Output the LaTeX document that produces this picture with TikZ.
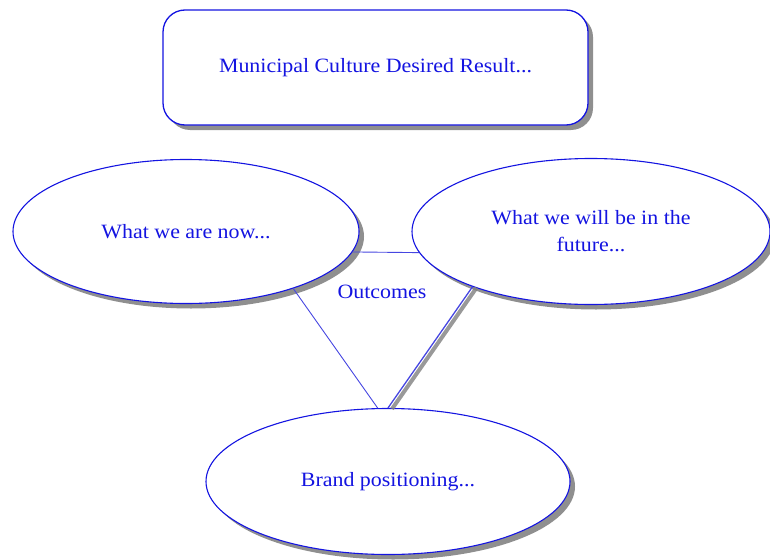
\documentclass[tikz,border=0pt]{standalone}
\usepackage{fontspec}
\setmainfont{Liberation Serif}[FakeStretch=1.08]
\usetikzlibrary{shapes.geometric,shadows}
\definecolor{boxblue}{RGB}{20,20,225}
\definecolor{lineblue}{RGB}{70,70,225}
\tikzset{
  shade/.style={drop shadow={shadow xshift=5pt, shadow yshift=-5pt, fill=black!55, opacity=0.8}},
  idea/.style={shape=ellipse, draw=boxblue, line width=1.1pt, fill=white, shade, inner sep=0pt, font=\fontsize{20.3}{27}\selectfont, text=boxblue, align=center},
  title/.style={shape=rectangle, rounded corners=22pt, draw=boxblue, line width=1.3pt, fill=white, shade, inner sep=0pt, font=\fontsize{20.3}{27}\selectfont, text=boxblue},
  link/.style={-, line width=0.9pt, draw=lineblue}
}
\begin{document}
\begin{tikzpicture}[x=1pt, y=-1pt]
\useasboundingbox (0,0) rectangle (770,559);
\node[title, minimum width=425pt, minimum height=115pt] (T) at (375.5,67.5) {Municipal Culture Desired Result...};
\node[idea, minimum width=346pt, minimum height=144pt] (L) at (186,231.5) {What we are now...};
\node[idea, minimum width=358pt, minimum height=146pt] (R) at (591,231.5) {What we will be in the\\future...};
\node[idea, minimum width=364pt, minimum height=146pt] (B) at (388,481.5) {Brand positioning...};
\node[text=boxblue, font=\fontsize{20.3}{27}\selectfont] (O) at (382,292) {Outcomes};
\path [link] (L.-7) edge (R.187);
\path [link] (L.-28) edge (B.98);
\path [-, line width=4pt, draw=black!50, opacity=0.8] ([shift={(4,1)}]R.205) edge ([shift={(4,1)}]B.90);
\path [link, line width=1.3pt] (R.205) edge (B.90);
\end{tikzpicture}
\end{document}
